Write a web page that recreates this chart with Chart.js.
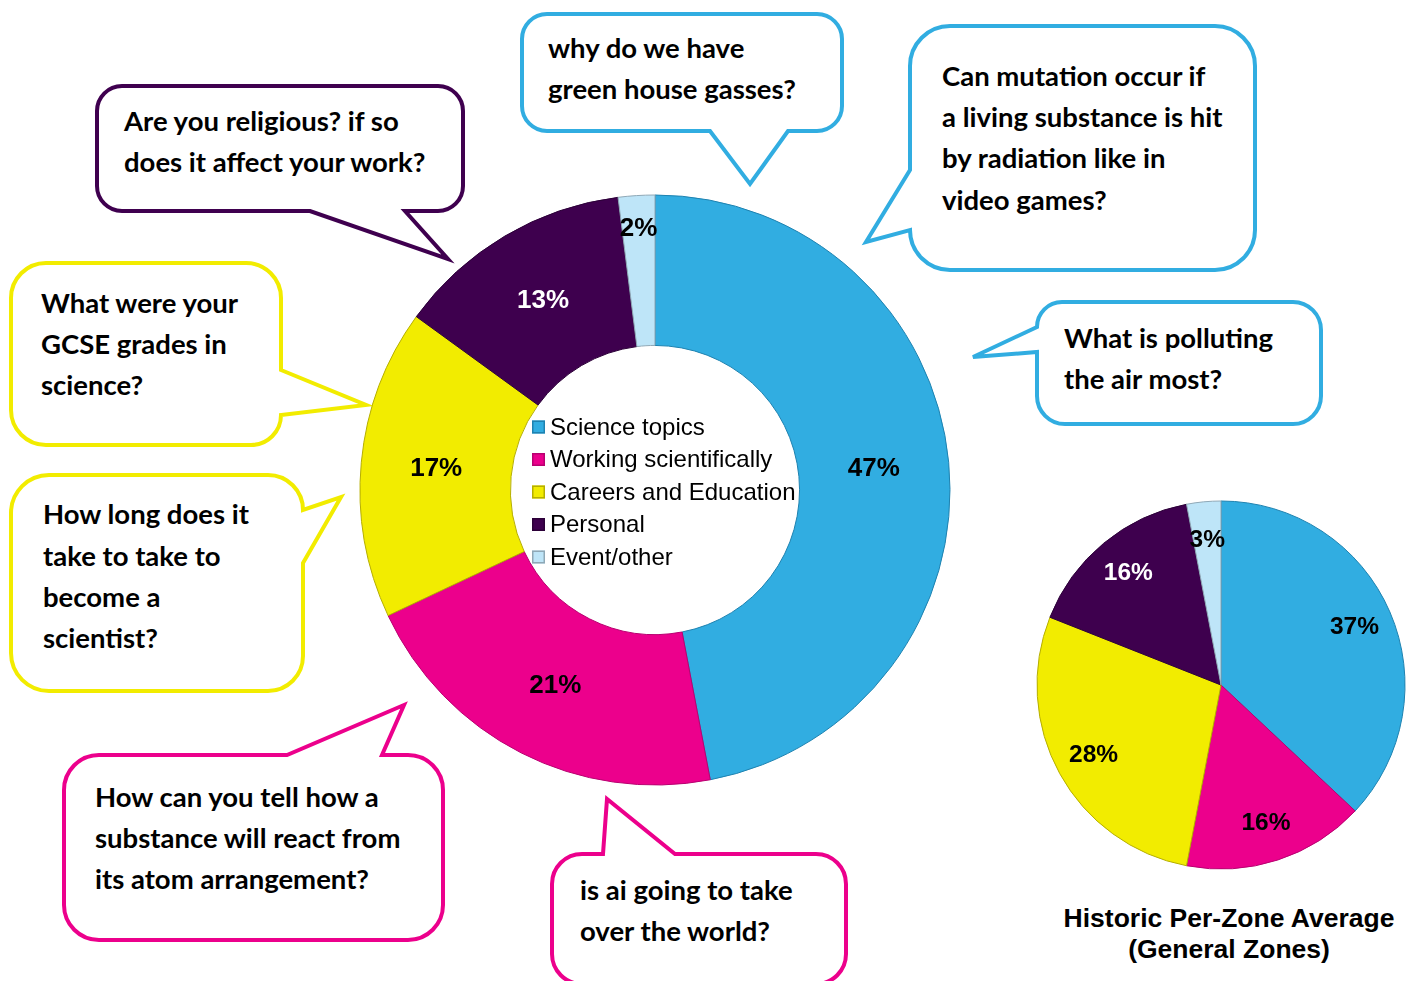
<!DOCTYPE html>
<html>
<head>
<meta charset="utf-8">
<title>Question topics</title>
<script src="https://cdn.jsdelivr.net/npm/chart.js@4.4.1/dist/chart.umd.min.js"></script>
<style>
    html, body {
        margin: 0;
        padding: 0;
        background: #ffffff;
        width: 1416px;
        height: 981px;
        overflow: hidden;
    }
    #page {
        position: relative;
        width: 1416px;
        height: 981px;
    }
    canvas {
        position: absolute;
    }
    #current-chart {
        left: 355px;
        top: 190px;
    }
    #historic-chart {
        left: 1031px;
        top: 495px;
    }
    #historic-title {
        position: absolute;
        left: 1029px;
        top: 903px;
        width: 400px;
        text-align: center;
        font: bold 26.5px "Liberation Sans", Arial, sans-serif;
        line-height: 31px;
        color: #000;
    }
    #bubbles {
        position: absolute;
        left: 0;
        top: 0;
    }
    #bubbles path {
        fill: #ffffff;
        stroke-width: 4;
        stroke-linejoin: miter;
    }
    #bubbles text {
        font-family: Lato, "Open Sans", sans-serif;
        font-weight: 700;
        font-size: 27.5px;
        fill: #000;
    }
</style>
</head>
<body>
<div id="page">
    <svg id="bubbles" width="1416" height="981">
        <!-- Personal -->
        <path stroke="#3F004F" d="M 122 86 H 438 A 25 25 0 0 1 463 111 V 186 A 25 25 0 0 1 438 211 H 405 L 448 259 L 310 211 H 122 A 25 25 0 0 1 97 186 V 111 A 25 25 0 0 1 122 86 Z"/>
        <text x="124" y="131">Are you religious? if so</text>
        <text x="124" y="172">does it affect your work?</text>

        <!-- Science topics -->
        <path stroke="#31ADE1" d="M 547 14 H 817 A 25 25 0 0 1 842 39 V 106 A 25 25 0 0 1 817 131 H 788 L 750 184 L 710 131 H 547 A 25 25 0 0 1 522 106 V 39 A 25 25 0 0 1 547 14 Z"/>
        <text x="548" y="58">why do we have</text>
        <text x="548" y="99">green house gasses?</text>

        <path stroke="#31ADE1" d="M 950 26 H 1215 A 40 40 0 0 1 1255 66 V 230 A 40 40 0 0 1 1215 270 H 950 A 40 40 0 0 1 910 230 L 866 242 L 910 170 V 66 A 40 40 0 0 1 950 26 Z"/>
        <text x="942" y="86">Can mutation occur if</text>
        <text x="942" y="127">a living substance is hit</text>
        <text x="942" y="168">by radiation like in</text>
        <text x="942" y="210">video games?</text>

        <path stroke="#31ADE1" d="M 1062 302 H 1293 A 28 28 0 0 1 1321 330 V 396 A 28 28 0 0 1 1293 424 H 1065 A 28 28 0 0 1 1037 396 V 352 L 973 357 L 1037 327 A 25 25 0 0 1 1062 302 Z"/>
        <text x="1064" y="348">What is polluting</text>
        <text x="1064" y="389">the air most?</text>

        <!-- Careers and Education -->
        <path stroke="#F2EC00" d="M 46 263 H 246 A 35 35 0 0 1 281 298 V 370 L 366 405 L 281 415 A 30 30 0 0 1 251 445 H 46 A 35 35 0 0 1 11 410 V 298 A 35 35 0 0 1 46 263 Z"/>
        <text x="41" y="313">What were your</text>
        <text x="41" y="354">GCSE grades in</text>
        <text x="41" y="395">science?</text>

        <path stroke="#F2EC00" d="M 49 475 H 268 A 35 35 0 0 1 303 510 L 341 497 L 303 563 V 656 A 35 35 0 0 1 268 691 H 49 A 38 38 0 0 1 11 653 V 513 A 38 38 0 0 1 49 475 Z"/>
        <text x="43" y="524">How long does it</text>
        <text x="43" y="566">take to take to</text>
        <text x="43" y="607">become a</text>
        <text x="43" y="648">scientist?</text>

        <!-- Working scientifically -->
        <path stroke="#EC008C" d="M 99 755 H 287 L 404 705 L 382 755 H 408 A 35 35 0 0 1 443 790 V 905 A 35 35 0 0 1 408 940 H 99 A 35 35 0 0 1 64 905 V 790 A 35 35 0 0 1 99 755 Z"/>
        <text x="95" y="807">How can you tell how a</text>
        <text x="95" y="848">substance will react from</text>
        <text x="95" y="889">its atom arrangement?</text>

        <path stroke="#EC008C" d="M 582 854 H 603 L 607 799 L 675 854 H 816 A 30 30 0 0 1 846 884 V 954 A 30 30 0 0 1 816 984 H 582 A 30 30 0 0 1 552 954 V 884 A 30 30 0 0 1 582 854 Z"/>
        <text x="580" y="900">is ai going to take</text>
        <text x="580" y="941">over the world?</text>
    </svg>

    <canvas id="current-chart" width="600" height="600"></canvas>
    <canvas id="historic-chart" width="380" height="380"></canvas>
    <div id="historic-title">Historic Per-Zone Average<br>(General Zones)</div>
</div>

<script>
// question categories, shares in percent
const categories = ['Science topics', 'Working scientifically', 'Careers and Education', 'Personal', 'Event/other'];
const currentShares = [47, 21, 17, 13, 2];
const historicShares = [37, 16, 28, 16, 3];

const sliceColours = ['#31ADE1', '#EC008C', '#F2EC00', '#3E004E', '#BEE5F8'];
const sliceBorders = ['#1E82B0', '#B80070', '#B5AE00', '#2C0038', '#8FA8B6'];
const labelColours = ['#000000', '#000000', '#000000', '#ffffff', '#000000'];

// percentage text inside every slice; thin slices get pushed towards the rim
const sliceLabels = {
    id: 'sliceLabels',
    afterDatasetsDraw(chart, args, opts) {
        const ctx = chart.ctx;
        const values = chart.data.datasets[0].data;
        ctx.save();
        ctx.font = `bold ${opts.size}px "Liberation Sans", Arial, sans-serif`;
        ctx.textAlign = 'center';
        ctx.textBaseline = 'middle';
        chart.getDatasetMeta(0).data.forEach((arc, i) => {
            const {x, y, startAngle, endAngle, innerRadius, outerRadius} =
                arc.getProps(['x', 'y', 'startAngle', 'endAngle', 'innerRadius', 'outerRadius'], true);
            const mid = (startAngle + endAngle) / 2;
            const frac = values[i] < 5 ? opts.thinFraction : opts.fraction;
            const r = innerRadius + (outerRadius - innerRadius) * frac;
            ctx.fillStyle = labelColours[i];
            ctx.fillText(values[i] + '%', x + Math.cos(mid) * r, y + Math.sin(mid) * r);
        });
        ctx.restore();
    }
};

// legend drawn in the hole of the doughnut
const centreLegend = {
    id: 'centreLegend',
    afterDraw(chart, args, opts) {
        const ctx = chart.ctx;
        const arc = chart.getDatasetMeta(0).data[0];
        const cx = arc.x, cy = arc.y;
        const ds = chart.data.datasets[0];
        ctx.save();
        ctx.font = `${opts.size}px "Liberation Sans", Arial, sans-serif`;
        ctx.textBaseline = 'middle';
        ctx.textAlign = 'left';
        chart.data.labels.forEach((label, i) => {
            const y = cy + opts.top + i * opts.lineHeight;
            const bx = cx + opts.boxLeft;
            ctx.fillStyle = ds.backgroundColor[i];
            ctx.fillRect(bx, y - opts.box / 2, opts.box, opts.box);
            ctx.strokeStyle = ds.borderColor[i];
            ctx.lineWidth = 1.5;
            ctx.strokeRect(bx + 0.75, y - opts.box / 2 + 0.75, opts.box - 1.5, opts.box - 1.5);
            ctx.fillStyle = '#000';
            ctx.fillText(label, cx + opts.textLeft, y + 1);
        });
        ctx.restore();
    }
};

function makePie(canvasId, values, radius, cutout, labelOpts, extraPlugins) {
    const element = document.getElementById(canvasId);
    if (!element) {
        throw new Error('Chart element not found: ' + canvasId);
    }
    return new Chart(element, {
        type: 'doughnut',
        data: {
            labels: categories,
            datasets: [{
                data: values,
                backgroundColor: sliceColours,
                borderColor: sliceBorders,
                borderWidth: 1,
                hoverOffset: 0
            }]
        },
        options: {
            responsive: false,
            maintainAspectRatio: false,
            animation: false,
            radius: radius,
            cutout: cutout,
            rotation: 0,
            layout: { padding: 0 },
            events: [],
            plugins: {
                legend: { display: false },
                tooltip: { enabled: false },
                sliceLabels: labelOpts,
                centreLegend: { size: 24, top: -63, lineHeight: 32.5, box: 13, boxLeft: -123, textLeft: -105 }
            }
        },
        plugins: [sliceLabels].concat(extraPlugins)
    });
}

try {
    makePie('current-chart', currentShares, 295, '49%', { size: 26, fraction: 0.5, thinFraction: 0.78 }, [centreLegend]);
    makePie('historic-chart', historicShares, 184, 0, { size: 24.5, fraction: 0.79, thinFraction: 0.79 }, []);
} catch (error) {
    console.error(error.message);
}
</script>
</body>
</html>
